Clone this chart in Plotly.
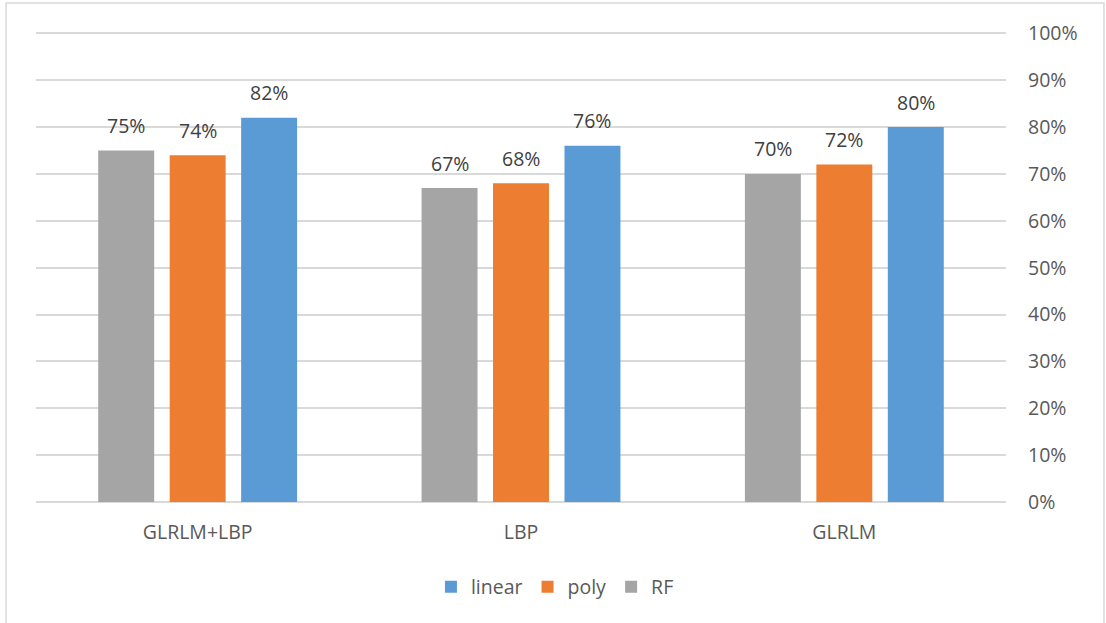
import plotly.graph_objects as go

categories = ["GLRLM+LBP", "LBP", "GLRLM"]
rf = [75, 67, 70]
poly = [74, 68, 72]
linear = [82, 76, 80]
y_ticks = [0, 10, 20, 30, 40, 50, 60, 70, 80, 90, 100]
y_tick_labels = [f"{v}%" for v in y_ticks]

series = [
    ("RF", rf, "#a5a5a5"),
    ("poly", poly, "#ed7d31"),
    ("linear", linear, "#5b9bd5"),
]

FONT = "Open Sans, Noto Sans, sans-serif"
SIZE = 19.5

fig = go.Figure()
for i, (name, vals, color) in enumerate(series):
    fig.add_trace(go.Bar(
        name=name, x=categories, y=vals,
        marker=dict(color=color, line=dict(width=0)),
        offsetgroup=str(i),
    ))

# value labels above each bar (group offsets follow bargap/bargroupgap)
bargap, bargroupgap = 0.337, 0.217
group_w = 1 - bargap
slot = group_w / len(series)
for i, (name, vals, color) in enumerate(series):
    off = -group_w / 2 + slot * (i + 0.5)
    for ci, v in enumerate(vals):
        fig.add_annotation(
            x=ci + off, y=v, xref="x", yref="y",
            text=f"{v}%", showarrow=False,
            yanchor="middle", yshift=25,
            font=dict(size=SIZE, color="#404040", family=FONT),
        )

# chart frame
fig.add_shape(type="rect", xref="paper", yref="paper",
              x0=-0.0309, x1=1.101, y0=-0.26, y1=1.0618,
              line=dict(color="#d9d9d9", width=1.5), fillcolor="rgba(0,0,0,0)",
              layer="below")

fig.update_layout(
    width=1106, height=623,
    margin=dict(l=36, r=100, t=32, b=121),
    paper_bgcolor="white", plot_bgcolor="white",
    barmode="group", bargap=bargap, bargroupgap=bargroupgap,
    font=dict(family=FONT, size=SIZE, color="#595959"),
    showlegend=True,
    legend=dict(orientation="h", traceorder="reversed",
                x=0.535, xanchor="center", y=-0.181, yanchor="middle",
                font=dict(size=SIZE, color="#595959"),
                itemwidth=30, itemsizing="constant"),
    xaxis=dict(type="category", range=[-0.5, 2.5],
               showline=False, showgrid=False, ticks="",
               tickfont=dict(size=SIZE, color="#595959"),
               ticklabelstandoff=16),
    yaxis=dict(side="right", range=[0, 100.3], tickvals=y_ticks,
               ticktext=y_tick_labels,
               showgrid=True, gridcolor="#d9d9d9", gridwidth=1.5,
               zeroline=True, zerolinecolor="#d9d9d9", zerolinewidth=1.5,
               showline=False, ticks="",
               tickfont=dict(size=SIZE, color="#595959"),
               ticklabelstandoff=21),
)

fig.write_html("out.html")
